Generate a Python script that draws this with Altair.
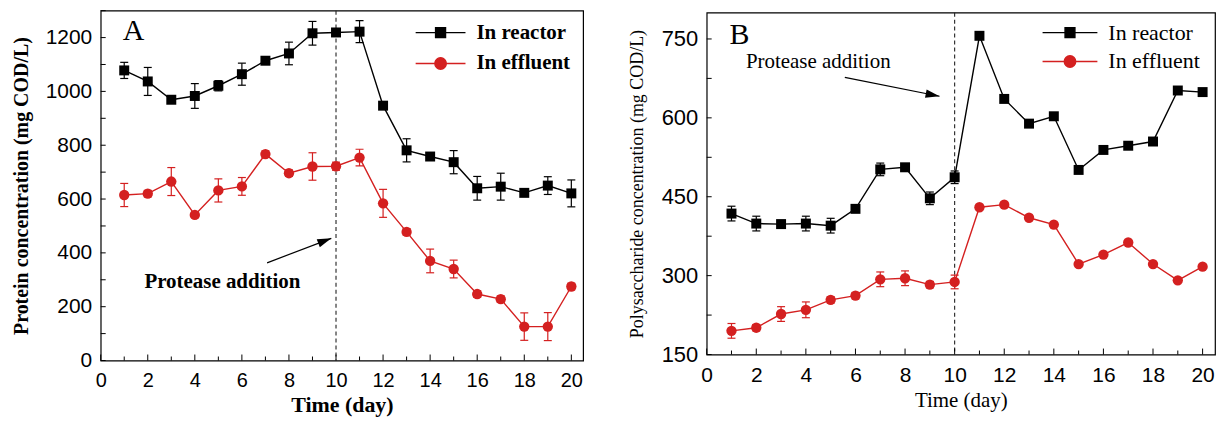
import altair as alt
import pandas as pd

# ---------------- data ----------------
DAYS = list(range(1, 21))

A_REACTOR = [1078, 1037, 969, 983, 1021, 1064, 1114, 1141, 1216, 1219,
             1222, 947, 781, 758, 737, 640, 646, 623, 650, 621]
A_REACTOR_ERR = [30, 52, 10, 46, 19, 41, 10, 42, 44, 12,
                 41, 12, 43, 12, 43, 44, 50, 12, 33, 50]
A_EFFLUENT = [615, 620, 665, 541, 632, 647, 767, 696, 721, 722,
              754, 584, 478, 370, 340, 247, 228, 126, 126, 275]
A_EFFLUENT_ERR = [43, 12, 52, 10, 43, 33, 12, 12, 51, 15,
                  31, 52, 12, 44, 33, 12, 12, 51, 52, 12]

B_REACTOR = [418, 399, 398, 399, 395, 427, 502, 506, 447, 487,
             756, 636, 589, 603, 501, 539, 547, 555, 652, 649]
B_REACTOR_ERR = [14, 14, 7, 14, 14, 5, 12, 5, 12, 12,
                 0, 0, 0, 0, 0, 0, 0, 0, 0, 0]
B_EFFLUENT = [195, 201, 227, 235, 254, 262, 293, 295, 283, 288,
              430, 435, 410, 397, 322, 340, 363, 322, 291, 317]
B_EFFLUENT_ERR = [14, 6, 14, 15, 6, 6, 14, 14, 6, 13,
                  0, 0, 0, 0, 0, 0, 0, 0, 0, 0]

SERIES = ["In reactor", "In effluent"]
X_LABELS = list(range(0, 21, 2))
X_TICKS_MAJOR = list(range(0, 21, 2))
X_TICKS_MINOR = list(range(1, 21, 2))
A_Y_LABELS = list(range(0, 1201, 200))
A_Y_TICKS = list(range(0, 1301, 100))
B_Y_LABELS = [150, 300, 450, 600, 750]
B_Y_TICKS = list(range(150, 800, 75))
PROTEASE_DAY = 10

# annotation anchors (data coordinates)
A_NOTE = {"x": [5.17], "y": [293], "t": ["Protease addition"]}
A_ARROW = {"x0": [7.07], "y0": [363], "x1": [9.8], "y1": [454]}
B_NOTE = {"x": [4.5], "y": [707], "t": ["Protease addition"]}
B_ARROW = {"x0": [5.57], "y0": [677], "x1": [9.39], "y1": [641]}

BLACK = "#000000"
RED = "#d42020"
SERIF = "Liberation Serif"
SANS = "Liberation Sans"


def panel(key, reactor, r_err, effluent, e_err, y_domain, y_labels, y_ticks,
          ytitle, bold, width, height, note, arrow, arrow_angle, letter, letter_y,
          leg_x, leg_y, leg_size, leg_paths, leg_font, leg_rowpad, ylab_size,
          xlab_size, ytitle_size, ytitle_pad, xtitle_size):
    weight = "bold" if bold else "normal"
    xscale = alt.Scale(domain=[0, 20.5], nice=False, zero=False)
    yscale = alt.Scale(domain=y_domain, nice=False, zero=False)
    xaxis = alt.Axis(values=X_LABELS, format="d", labelFont=SANS,
                     labelFontSize=xlab_size, labelPadding=10, labelFlush=False,
                     labelOverlap=False, titleFont=SERIF,
                     titleFontSize=xtitle_size, titleFontWeight=weight,
                     titlePadding=4)
    yaxis = alt.Axis(values=y_labels, format="d", labelFont=SANS,
                     labelFontSize=ylab_size, labelPadding=9,
                     labelOverlap=False, titleFont=SERIF,
                     titleFontSize=ytitle_size, titleFontWeight=weight,
                     titlePadding=ytitle_pad)

    def X(f):
        return alt.X(f"{f}:Q", scale=xscale, axis=xaxis, title="Time (day)")

    def Y(f):
        return alt.Y(f"{f}:Q", scale=yscale, axis=yaxis, title=ytitle)

    rows = []
    for s, vals, errs in ((SERIES[0], reactor, r_err), (SERIES[1], effluent, e_err)):
        for d, v, e in zip(DAYS, vals, errs):
            rows.append({"day": d, "val": v, "lo": v - e, "hi": v + e,
                         "err": e, "series": s})
    df = pd.DataFrame(rows)
    base = alt.Chart(df)

    layers = []
    # dashed protease line
    layers.append(alt.Chart(pd.DataFrame({"day": [PROTEASE_DAY]}))
                  .mark_rule(color="#222222", strokeDash=[4, 3], strokeWidth=1.1)
                  .encode(x=X("day")))
    # inward ticks
    layers.append(alt.Chart(pd.DataFrame({"day": X_TICKS_MAJOR}))
                  .mark_rule(color="black", strokeWidth=1)
                  .encode(x=X("day"), y=alt.value(height), y2=alt.value(height - 6)))
    layers.append(alt.Chart(pd.DataFrame({"day": X_TICKS_MINOR}))
                  .mark_rule(color="black", strokeWidth=1)
                  .encode(x=X("day"), y=alt.value(height), y2=alt.value(height - 4)))
    layers.append(alt.Chart(pd.DataFrame({"val": y_ticks}))
                  .mark_rule(color="black", strokeWidth=1)
                  .encode(y=Y("val"), x=alt.value(0), x2=alt.value(5)))

    for s, col in ((SERIES[0], BLACK), (SERIES[1], RED)):
        sub = base.transform_filter(alt.datum.series == s)
        eb = sub.transform_filter(alt.datum.err > 0)
        layers.append(eb.mark_rule(color=col, strokeWidth=1.2)
                      .encode(x=X("day"), y=Y("lo"), y2="hi:Q"))
        layers.append(eb.mark_tick(color=col, orient="horizontal", size=8,
                                   thickness=1.2, opacity=1)
                      .encode(x=X("day"), y=Y("lo")))
        layers.append(eb.mark_tick(color=col, orient="horizontal", size=8,
                                   thickness=1.2, opacity=1)
                      .encode(x=X("day"), y=Y("hi")))
        layers.append(sub.mark_line(color=col, strokeWidth=1.4)
                      .encode(x=X("day"), y=Y("val")))
    layers.append(base.transform_filter(alt.datum.series == SERIES[0])
                  .mark_point(shape="square", filled=True, size=100, opacity=1,
                              color=BLACK)
                  .encode(x=X("day"), y=Y("val")))
    layers.append(base.transform_filter(alt.datum.series == SERIES[1])
                  .mark_point(shape="circle", filled=True, size=108, opacity=1,
                              color=RED)
                  .encode(x=X("day"), y=Y("val")))

    # annotation text + arrow
    layers.append(alt.Chart(pd.DataFrame(note))
                  .mark_text(font=SERIF, fontSize=21, fontWeight=weight,
                             align="center", baseline="middle", color="black")
                  .encode(x=X("x"), y=Y("y"), text="t:N"))
    adf = pd.DataFrame(arrow)
    layers.append(alt.Chart(adf).mark_rule(color="black", strokeWidth=1.2)
                  .encode(x=X("x0"), y=Y("y0"), x2="x1:Q", y2="y1:Q"))
    layers.append(alt.Chart(adf)
                  .mark_point(shape="M0,0L-2,-0.62L-2,0.62Z", filled=True,
                              size=196, opacity=1, color="black",
                              angle=arrow_angle)
                  .encode(x=X("x1"), y=Y("y1")))
    # panel letter
    layers.append(alt.Chart(pd.DataFrame({"t": [letter]}))
                  .mark_text(font=SERIF, fontSize=30, align="center",
                             baseline="middle", color="black")
                  .encode(x=alt.value(33), y=alt.value(letter_y), text="t:N"))

    # legend carrier layer (no visible points)
    fld = f"series{key}"
    ldf = pd.DataFrame({"day": [1, 2], "val": [y_domain[0]] * 2, fld: SERIES})
    leg = alt.Legend(orient="none", legendX=leg_x, legendY=leg_y, title=None,
                     symbolSize=leg_size, labelFont=SERIF, labelFontSize=leg_font,
                     labelFontWeight=weight, labelOffset=10, clipHeight=22,
                     rowPadding=leg_rowpad, padding=0, symbolStrokeWidth=1.4,
                     labelColor="black", symbolOpacity=1)
    layers.append(alt.Chart(ldf).transform_filter("false")
                  .mark_point(filled=True, opacity=1, strokeWidth=1.4)
                  .encode(x=X("day"), y=Y("val"),
                          color=alt.Color(f"{fld}:N", legend=leg,
                                          scale=alt.Scale(domain=SERIES, range=[BLACK, RED])),
                          stroke=alt.Stroke(f"{fld}:N", legend=leg,
                                            scale=alt.Scale(domain=SERIES, range=[BLACK, RED])),
                          shape=alt.Shape(f"{fld}:N", legend=leg,
                                          scale=alt.Scale(domain=SERIES, range=leg_paths))))

    return alt.layer(*layers).properties(width=width, height=height)


A_PATHS = ["M-1,0H1M-0.2,-0.2H0.2V0.2H-0.2Z",
           "M-1,0H1M0.23,0A0.23,0.23,0,1,1,-0.23,0A0.23,0.23,0,1,1,0.23,0Z"]
B_PATHS = ["M-1,0H1M-0.18,-0.18H0.18V0.18H-0.18Z",
           "M-1,0H1M0.21,0A0.21,0.21,0,1,1,-0.21,0A0.21,0.21,0,1,1,0.21,0Z"]

chartA = panel("A", A_REACTOR, A_REACTOR_ERR, A_EFFLUENT, A_EFFLUENT_ERR,
               [0, 1300], A_Y_LABELS, A_Y_TICKS,
               "Protein concentration (mg COD/L)", True, 484, 351,
               A_NOTE, A_ARROW, 339, "A", 20, 315, 11, 2500, A_PATHS, 21, 9,
               21, 20, 20, 14, 22)
chartB = panel("B", B_REACTOR, B_REACTOR_ERR, B_EFFLUENT, B_EFFLUENT_ERR,
               [150, 800], B_Y_LABELS, B_Y_TICKS,
               "Polysaccharide concentration (mg COD/L)", False, 510, 343,
               B_NOTE, B_ARROW, 11, "B", 22, 336, 9, 3025, B_PATHS, 22, 7,
               22, 21, 18, 15, 21)

# thin invisible spacer that drops panel B a few pixels, as in the original
spacer = (alt.Chart(pd.DataFrame({"k": [0]}))
          .mark_rule(strokeOpacity=0, color="white")
          .encode(x=alt.value(0), y=alt.value(0), y2=alt.value(1))
          .properties(width=510, height=1,
                      view=alt.ViewBackground(stroke="transparent")))
colB = (alt.vconcat(spacer, chartB, spacing=-2)
        .resolve_scale(color="independent", stroke="independent", shape="independent")
        .resolve_legend(color="independent", stroke="independent", shape="independent"))

chart = (alt.hconcat(chartA, colB, spacing=43)
         .resolve_scale(color="independent", stroke="independent", shape="independent")
         .resolve_legend(color="independent", stroke="independent", shape="independent")
         .properties(padding={"left": 2, "top": 0, "right": 0, "bottom": 0})
         .configure_view(stroke="black", strokeWidth=1.2)
         .configure_axis(grid=False, domain=False, ticks=False, tickSize=0,
                         labelColor="black", titleColor="black"))

chart.save("out.html", embed_options={"renderer": "svg", "actions": False})
